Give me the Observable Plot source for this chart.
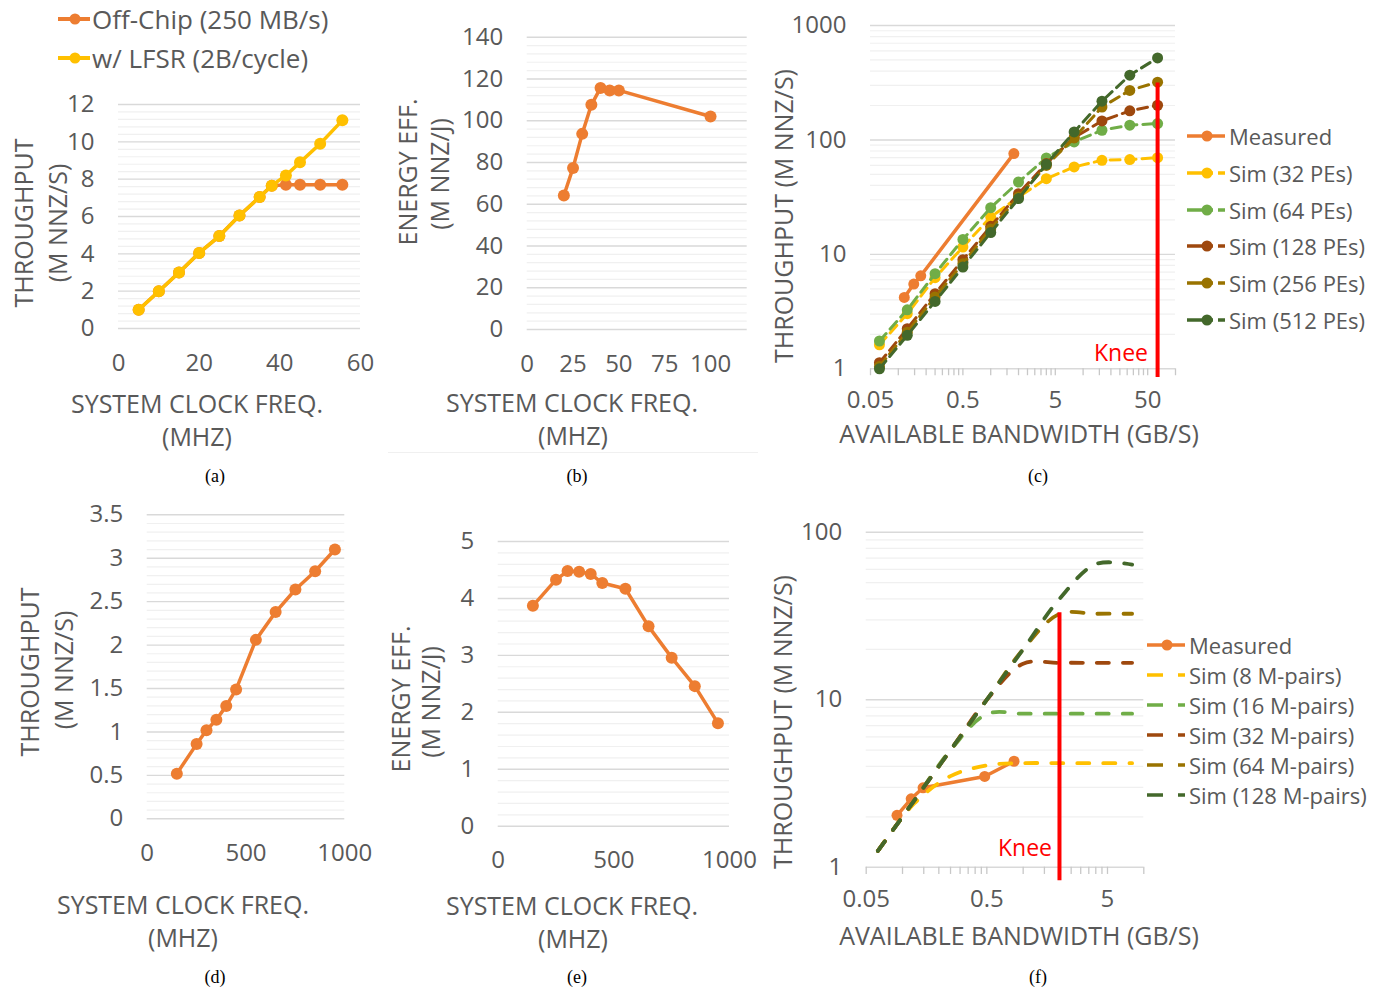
<!DOCTYPE html>
<html><head><meta charset="utf-8">
<script src="https://cdn.jsdelivr.net/npm/d3@7"></script>
<script src="https://cdn.jsdelivr.net/npm/@observablehq/plot@0.6"></script>
<style>
body{margin:0;background:#fff;}
#root{position:relative;width:1380px;height:990px;overflow:hidden;font-family:"Open Sans",sans-serif;color:#595959;background:#fff;}
.t{position:absolute;white-space:nowrap;font-size:25px;line-height:1;color:#595959;transform:translate(-50%,-50%);}
.rot{transform:translate(-50%,-50%) rotate(-90deg);}
.knee{color:#FF0000;font-size:23px;}
.cap{position:absolute;white-space:nowrap;font-family:"Liberation Serif",serif;font-size:18px;color:#000;transform:translate(-50%,-50%);line-height:1;}
.leg{position:absolute;white-space:nowrap;font-size:22px;line-height:1;color:#595959;transform:translateY(-50%);}
</style></head><body><div id="root"></div><script>
// ---------------- DATA ----------------
// (a)
const aFreq = [5, 10, 15, 20, 25, 30, 35, 38, 41.5, 45, 50, 55.5];
const aOffChip = [1.0, 2.0, 3.0, 4.05, 4.95, 6.05, 7.05, 7.65, 7.7, 7.7, 7.7, 7.7];
const aLfsr = [1.0, 2.0, 3.0, 4.05, 4.95, 6.05, 7.05, 7.65, 8.2, 8.9, 9.9, 11.15];
const aXTicks = [0, 20, 40, 60];
const aYTicks = [0, 2, 4, 6, 8, 10, 12];
const aLegend = ["Off-Chip (250 MB/s)", "w/ LFSR (2B/cycle)"];
// (b)
const bFreq = [20, 25, 30, 35, 40, 45, 50, 100];
const bEff = [64.2, 77.4, 93.7, 107.6, 115.7, 114.5, 114.5, 102];
const bXTicks = [0, 25, 50, 75, 100];
const bYTicks = [0, 20, 40, 60, 80, 100, 120, 140];
// (c)
const cMeasBw = [0.116, 0.147, 0.175, 1.78];
const cMeas = [4.2, 5.5, 6.5, 76];
const cBw = [0.0625, 0.125, 0.25, 0.5, 1, 2, 4, 8, 16, 32, 64];
const cSim32 = [1.62, 3.03, 6.25, 11.6, 21.2, 31.7, 45.9, 58.1, 66.4, 67.3, 70];
const cSim64 = [1.75, 3.28, 6.78, 13.5, 25.6, 42.9, 69.6, 96.1, 121.5, 134.5, 139];
const cSim128 = [1.13, 2.24, 4.53, 8.98, 17.6, 33.9, 62.1, 104.8, 146.6, 179.5, 201];
const cSim256 = [1.05, 2.09, 4.24, 8.3, 16.7, 31.7, 59.9, 104, 194, 271, 320];
const cSim512 = [1.0, 1.96, 3.88, 7.75, 15.5, 30.7, 61.3, 117.5, 218, 368, 521];
const cXTicks = [0.05, 0.5, 5, 50];
const cYTicks = [1, 10, 100, 1000];
const cKnee = [64];
const cLegend = ["Measured", "Sim (32 PEs)", "Sim (64 PEs)", "Sim (128 PEs)", "Sim (256 PEs)", "Sim (512 PEs)"];
// (d)
const dFreq = [150, 250, 300, 350, 400, 450, 550, 650, 750, 850, 950];
const dThr = [0.52, 0.86, 1.02, 1.14, 1.30, 1.49, 2.06, 2.38, 2.64, 2.85, 3.10];
const dXTicks = [0, 500, 1000];
const dYTicks = [0, 0.5, 1, 1.5, 2, 2.5, 3, 3.5];
// (e)
const eFreq = [150, 250, 300, 350, 400, 450, 550, 650, 750, 850, 950];
const eEff = [3.87, 4.33, 4.48, 4.47, 4.43, 4.27, 4.17, 3.51, 2.96, 2.46, 1.81];
const eXTicks = [0, 500, 1000];
const eYTicks = [0, 1, 2, 3, 4, 5];
// (f)
const fMeasBw = [0.090, 0.118, 0.148, 0.48, 0.84];
const fMeas = [2.04, 2.56, 2.98, 3.48, 4.29];
const fBw = [0.0625, 0.125, 0.25, 0.5, 1, 2, 4, 8];
const fSim8 = [1.25, 2.4, 3.5, 4.05, 4.18, 4.18, 4.18, 4.18];
const fSim16 = [1.25, 2.5, 5, 8.2, 8.25, 8.25, 8.25, 8.25];
const fSim32 = [1.25, 2.5, 5, 10, 16.4, 16.6, 16.6, 16.6];
const fSim64 = [1.25, 2.5, 5, 10, 20, 32.5, 32.6, 32.6];
const fSim128 = [1.25, 2.5, 5, 10, 20, 40, 64.5, 64];
const fXTicks = [0.05, 0.5, 5];
const fYTicks = [1, 10, 100];
const fKnee = [2];
const fLegend = ["Measured", "Sim (8 M-pairs)", "Sim (16 M-pairs)", "Sim (32 M-pairs)", "Sim (64 M-pairs)", "Sim (128 M-pairs)"];

// ---------------- STYLE ----------------
const ORANGE = "#ED7D31", YELLOW = "#FFC000", LGREEN = "#70AD47", BROWN = "#9E480E", OLIVE = "#997300", DGREEN = "#43682B";
const simColors = [YELLOW, LGREEN, BROWN, OLIVE, DGREEN];
const FONT = '"Open Sans", sans-serif';
const GRAY = "#595959";
const MAJOR = "#D9D9D9", MINOR = "#F0F0F0";
const TICKFS = 24;
const root = document.getElementById("root");
const fmt = d => String(d);

function pts(xs, ys) { return xs.map((x, i) => ({x, y: ys[i]})); }
function place(el, left, top) { el.style.position = "absolute"; el.style.left = left + "px"; el.style.top = top + "px"; root.appendChild(el); }
function txt(s, cx, cy, cls = "t") { const d = document.createElement("div"); d.className = cls; d.textContent = s; d.style.left = cx + "px"; d.style.top = cy + "px"; root.appendChild(d); }
function linMinor(ticks, n) { const out = []; for (let i = 0; i < ticks.length - 1; i++) { const s = (ticks[i + 1] - ticks[i]) / n; for (let k = 1; k < n; k++) out.push(ticks[i] + k * s); } return out; }
function logMinor(ticks) { const out = []; for (let i = 0; i < ticks.length - 1; i++) for (let k = 2; k <= 9; k++) out.push(ticks[i] * k); return out; }
function logTickMarks(first, max) { const out = []; for (let dec = first; dec <= max * 1.0001; dec *= 10) for (let k = 1; k <= 9; k++) { const v = +(dec * k).toPrecision(6); if (v <= max * 1.0001) out.push(v); } return out; }

function panel({box: [L, T, W, H], frame: [x0, x1, y0, y1], x, y, marks, xPad = 25, yPad = 24}) {
  const svg = Plot.plot({
    width: W, height: H,
    marginLeft: x0 - L, marginRight: L + W - x1, marginTop: y0 - T, marginBottom: T + H - y1,
    x: {tickFormat: fmt, ...x, label: null, tickSize: 0, tickPadding: xPad},
    y: {tickFormat: fmt, ...y, label: null, tickSize: 0, tickPadding: yPad},
    style: {fontSize: TICKFS + "px", fontFamily: FONT, color: GRAY, background: "transparent", overflow: "visible"},
    marks
  });
  place(svg, L, T);
}
function solidSeries(data, color, r = 5.5, w = 3.5) {
  return [Plot.line(data, {x: "x", y: "y", stroke: color, strokeWidth: w, strokeLinejoin: "round"}),
          Plot.dot(data, {x: "x", y: "y", r, fill: color})];
}
function linGrid(ticks, n) {
  return [Plot.ruleY(linMinor(ticks, n), {stroke: MINOR, strokeWidth: 1.2}), Plot.ruleY(ticks, {stroke: MAJOR, strokeWidth: 1.4})];
}
function logXLabels(ticks, yBase, dy) {
  return Plot.text(ticks, {x: d => d, y: () => yBase, dy, text: fmt, fill: GRAY, fontSize: TICKFS, textAnchor: "middle", lineAnchor: "middle"});
}

// ---------------- (a) ----------------
panel({box: [0, 80, 380, 300], frame: [118, 360, 104, 328],
  x: {domain: [0, 60], ticks: aXTicks}, y: {domain: [0, 12], ticks: aYTicks},
  marks: [...linGrid(aYTicks, 5), ...solidSeries(pts(aFreq, aOffChip), ORANGE, 6), ...solidSeries(pts(aFreq, aLfsr), YELLOW, 6)]});
// ---------------- (b) ----------------
panel({box: [380, 0, 380, 380], frame: [526.7, 746.7, 36.7, 329],
  x: {domain: [0, 120], ticks: bXTicks}, y: {domain: [0, 140], ticks: bYTicks},
  marks: [...linGrid(bYTicks, 5), ...solidSeries(pts(bFreq, bEff), ORANGE, 6)]});
// ---------------- (c) ----------------
{
  const sims = [cSim32, cSim64, cSim128, cSim256, cSim512];
  const marks = [
    Plot.ruleY(logMinor(cYTicks), {stroke: MINOR, strokeWidth: 1.2}),
    Plot.ruleY(cYTicks, {stroke: MAJOR, strokeWidth: 1.4}),
    Plot.ruleX(logTickMarks(0.05, 100), {y1: () => 1, y2: () => 0.87, stroke: "#C8C8C8", strokeWidth: 1.3}),
    logXLabels(cXTicks, 1, 32),
    ...solidSeries(pts(cMeasBw, cMeas), ORANGE, 5.5),
  ];
  sims.forEach((s, i) => {
    const d = pts(cBw, s);
    marks.push(Plot.line(d, {x: "x", y: "y", stroke: simColors[i], strokeWidth: 3, strokeDasharray: "10,6", strokeLinecap: "round"}));
    marks.push(Plot.dot(d, {x: "x", y: "y", r: 5.5, fill: simColors[i]}));
  });
  marks.push(Plot.ruleX(cKnee, {y1: () => 315, y2: () => 0.84, stroke: "#FF0000", strokeWidth: 4}));
  panel({box: [760, 0, 420, 420], frame: [870, 1175, 25, 368.3],
    x: {type: "log", domain: [0.05, 100], axis: null},
    y: {type: "log", domain: [1, 1000], ticks: cYTicks},
    marks});
}
// ---------------- (d) ----------------
panel({box: [0, 490, 380, 380], frame: [146.7, 344.3, 514.3, 818.3],
  x: {domain: [0, 1000], ticks: dXTicks}, y: {domain: [0, 3.5], ticks: dYTicks},
  marks: [...linGrid(dYTicks, 5), ...solidSeries(pts(dFreq, dThr), ORANGE, 6)]});
// ---------------- (e) ----------------
panel({box: [380, 490, 380, 380], frame: [497.7, 729, 541, 825.7],
  x: {domain: [0, 1000], ticks: eXTicks}, y: {domain: [0, 5], ticks: eYTicks},
  marks: [...linGrid(eYTicks, 5), ...solidSeries(pts(eFreq, eEff), ORANGE, 6)]});
// ---------------- (f) ----------------
{
  const sims = [fSim8, fSim16, fSim32, fSim64, fSim128];
  const marks = [
    Plot.ruleY(logMinor(fYTicks), {stroke: MINOR, strokeWidth: 1.2}),
    Plot.ruleY(fYTicks, {stroke: MAJOR, strokeWidth: 1.4}),
    Plot.ruleX(logTickMarks(0.05, 10), {y1: () => 1, y2: () => 0.905, stroke: "#C8C8C8", strokeWidth: 1.3}),
    logXLabels(fXTicks, 1, 32),
    ...solidSeries(pts(fMeasBw, fMeas), ORANGE, 5.5),
  ];
  sims.forEach((s, i) => {
    marks.push(Plot.line(pts(fBw, s), {x: "x", y: "y", stroke: simColors[i], strokeWidth: 3.8, strokeDasharray: "12,14", strokeLinecap: "round", curve: "catmull-rom"}));
  });
  marks.push(Plot.ruleX(fKnee, {y1: () => 33, y2: () => 0.83, stroke: "#FF0000", strokeWidth: 4}));
  panel({box: [760, 500, 400, 400], frame: [865.7, 1143.3, 531.7, 866.7],
    x: {type: "log", domain: [0.05, 10], axis: null},
    y: {type: "log", domain: [1, 100], ticks: fYTicks},
    marks});
}

// ---------------- TEXT ----------------
txt("THROUGHPUT", 23, 223, "t rot"); txt("(M NNZ/S)", 57, 223, "t rot");
txt("SYSTEM CLOCK FREQ.", 197, 403); txt("(MHZ)", 197, 436);
txt("ENERGY EFF.", 407, 172, "t rot"); txt("(M NNZ/J)", 439, 174, "t rot");
txt("SYSTEM CLOCK FREQ.", 572, 402); txt("(MHZ)", 573, 435);
txt("THROUGHPUT (M NNZ/S)", 783, 216, "t rot"); txt("AVAILABLE BANDWIDTH (GB/S)", 1019, 433);
txt("THROUGHPUT", 29, 672, "t rot"); txt("(M NNZ/S)", 63, 670, "t rot");
txt("SYSTEM CLOCK FREQ.", 183, 904); txt("(MHZ)", 183, 937);
txt("ENERGY EFF.", 400, 699, "t rot"); txt("(M NNZ/J)", 430, 702, "t rot");
txt("SYSTEM CLOCK FREQ.", 572, 905); txt("(MHZ)", 573, 938);
txt("THROUGHPUT (M NNZ/S)", 782, 722, "t rot"); txt("AVAILABLE BANDWIDTH (GB/S)", 1019, 935);
txt("Knee", 1121, 352, "t knee"); txt("Knee", 1025, 847, "t knee");
[["(a)", 215, 476], ["(b)", 577, 476], ["(c)", 1038, 476], ["(d)", 215, 977], ["(e)", 577, 977], ["(f)", 1038, 977]].forEach(([s, x, y]) => txt(s, x, y, "cap"));
{ const hr = document.createElement("div"); hr.style.cssText = "position:absolute;left:388px;top:452px;width:370px;height:1px;background:#F0F0F0;"; root.appendChild(hr); }

// ---------------- LEGENDS ----------------
const NS = "http://www.w3.org/2000/svg";
function swatch(left, cy, w, color, dot, dash, sw = 3.5) {
  const s = document.createElementNS(NS, "svg");
  s.setAttribute("width", w + 4); s.setAttribute("height", 16);
  s.style.position = "absolute"; s.style.left = (left - 2) + "px"; s.style.top = (cy - 8) + "px"; s.style.overflow = "visible";
  const l = document.createElementNS(NS, "line");
  l.setAttribute("x1", 2); l.setAttribute("x2", w + 2); l.setAttribute("y1", 8); l.setAttribute("y2", 8);
  l.setAttribute("stroke", color); l.setAttribute("stroke-width", sw);
  if (dash) l.setAttribute("stroke-dasharray", dash);
  s.appendChild(l);
  if (dot != null) { const c = document.createElementNS(NS, "circle"); c.setAttribute("cx", dot + 2); c.setAttribute("cy", 8); c.setAttribute("r", 5.5); c.setAttribute("fill", color); s.appendChild(c); }
  root.appendChild(s);
}
function legText(s, left, cy, size) { const d = document.createElement("div"); d.className = "leg"; d.textContent = s; d.style.left = left + "px"; d.style.top = cy + "px"; if (size) d.style.fontSize = size + "px"; root.appendChild(d); }
// (a)
[ORANGE, YELLOW].forEach((c, i) => { const cy = [18.5, 57.5][i]; swatch(58, cy, 32, c, 17, null, 4); legText(aLegend[i], 92, cy, 26); });
// (c)
const cLegColors = [ORANGE, ...simColors];
cLegend.forEach((s, i) => { const cy = 136 + i * 36.8; swatch(1187, cy, 38, cLegColors[i], 20, i === 0 ? null : "26,5"); legText(s, 1229, cy); });
// (f)
fLegend.forEach((s, i) => { const cy = 645 + i * 30; swatch(1147, cy, 38, cLegColors[i], i === 0 ? 20 : null, i === 0 ? null : "16,15"); legText(s, 1189, cy); });
</script></body></html>
